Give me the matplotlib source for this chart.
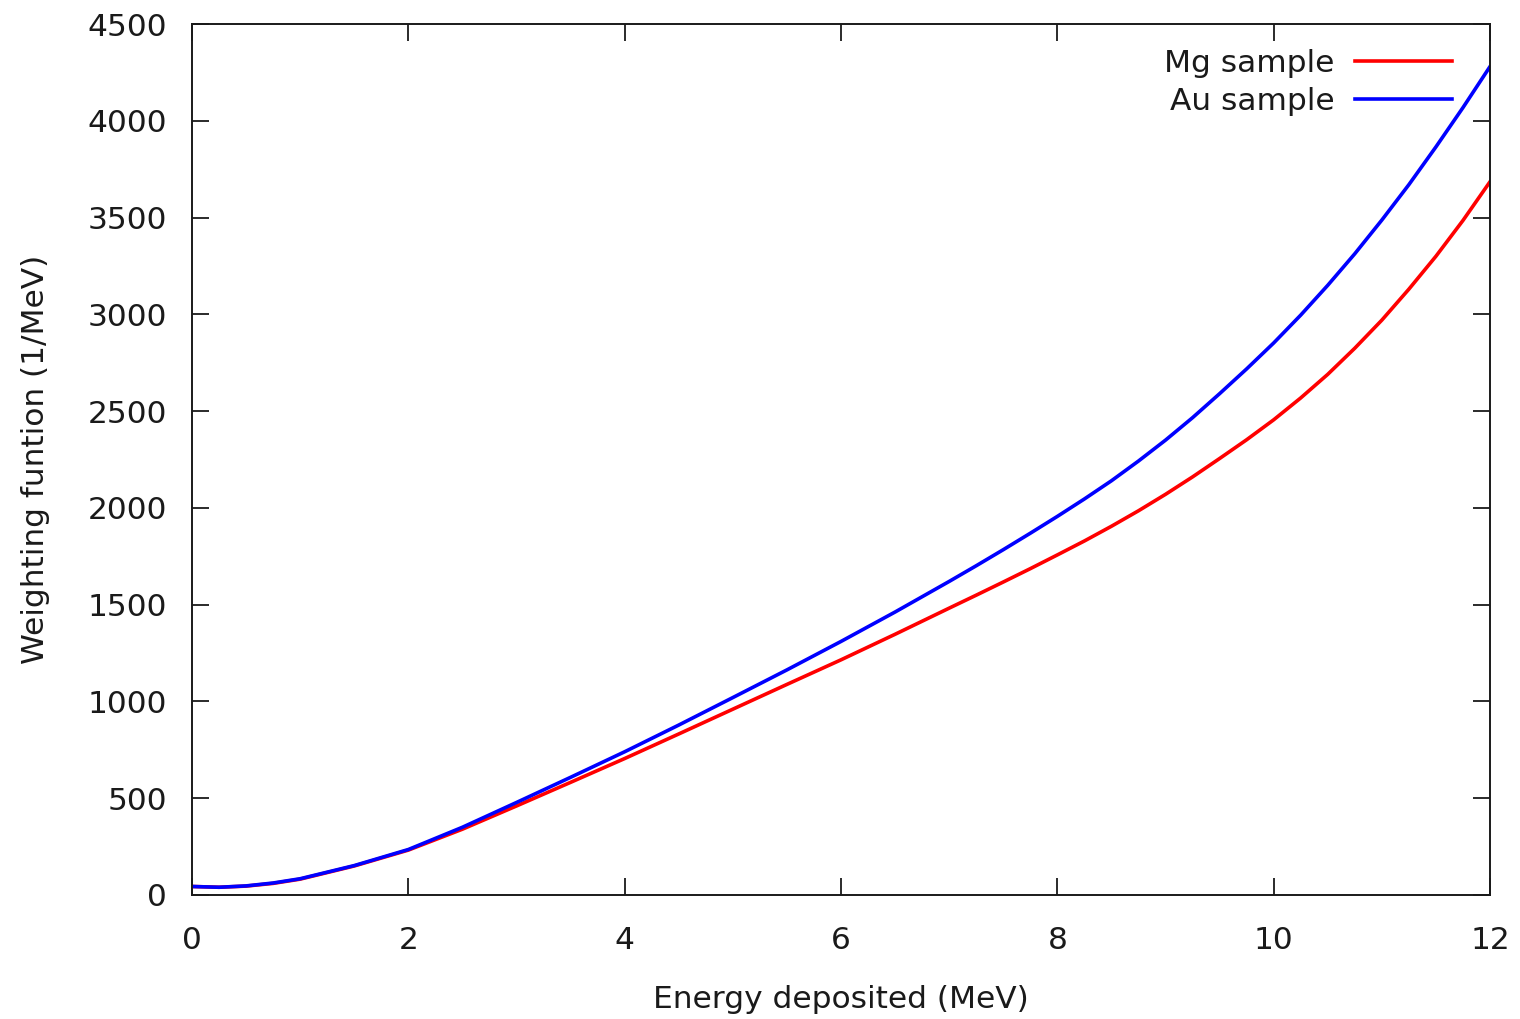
import matplotlib
matplotlib.use("Agg")
import matplotlib.pyplot as plt

# Deposited energy (MeV)
energy = [0.0, 0.25, 0.5, 0.75, 1.0, 1.5, 2.0, 2.5, 3.0, 3.5, 4.0, 4.5, 5.0,
          5.5, 6.0, 6.5, 7.0, 7.25, 7.5, 7.75, 8.0, 8.25, 8.5, 8.75, 9.0,
          9.25, 9.5, 9.75, 10.0, 10.25, 10.5, 10.75, 11.0, 11.25, 11.5,
          11.75, 12.0]

# Weighting function (1/MeV)
mg_sample = [44, 40, 46, 60, 82, 150, 232, 340, 460, 582, 705, 832, 960,
             1088, 1215, 1347, 1482, 1549, 1617, 1686, 1757, 1829, 1905,
             1985, 2070, 2160, 2255, 2352, 2455, 2568, 2690, 2825, 2970,
             3130, 3300, 3485, 3685]
au_sample = [44, 40, 47, 62, 84, 152, 235, 350, 478, 608, 740, 878, 1020,
             1163, 1310, 1462, 1620, 1701, 1784, 1869, 1956, 2046, 2140,
             2242, 2350, 2466, 2590, 2718, 2852, 2996, 3150, 3313, 3487,
             3670, 3865, 4068, 4280]

x_ticks = [0, 2, 4, 6, 8, 10, 12]
y_ticks = [0, 500, 1000, 1500, 2000, 2500, 3000, 3500, 4000, 4500]

text_color = "#1a1a1a"
plt.rcParams["font.family"] = ["DejaVu Sans"]

fig = plt.figure(figsize=(15.2, 10.19), dpi=100)
ax = fig.add_axes([192 / 1520, 1 - 895 / 1019, (1490 - 192) / 1520, (895 - 24) / 1019])

ax.plot(energy, mg_sample, color="#ff0000", lw=2.6, label="Mg sample",
        solid_joinstyle="round")
ax.plot(energy, au_sample, color="#0000ff", lw=2.6, label="Au sample",
        solid_joinstyle="round")

ax.set_xlim(0, 12)
ax.set_ylim(0, 4500)
ax.set_xticks(x_ticks)
ax.set_yticks(y_ticks)

ax.tick_params(axis="both", which="both", direction="in", length=12, width=1.3,
               top=True, right=True, labelsize=22.5, labelcolor=text_color,
               color=text_color)
ax.tick_params(axis="x", pad=22)
ax.tick_params(axis="y", pad=18)
for s in ax.spines.values():
    s.set_linewidth(1.4)
    s.set_color(text_color)

ax.set_xlabel("Energy deposited (MeV)", fontsize=22.5, color=text_color, labelpad=22)
ax.set_ylabel("Weighting funtion (1/MeV)", fontsize=22.5, color=text_color, labelpad=27)

leg = ax.legend(loc="upper right", bbox_to_anchor=(0.9923, 1.0035), frameon=False,
                markerfirst=False, fontsize=22.5, handlelength=3.1,
                handletextpad=0.65, labelspacing=0.28, borderaxespad=0.5)
for t in leg.get_texts():
    t.set_color(text_color)
    t.set_ha("right")

fig.savefig("out.png", dpi=100, facecolor="white")
